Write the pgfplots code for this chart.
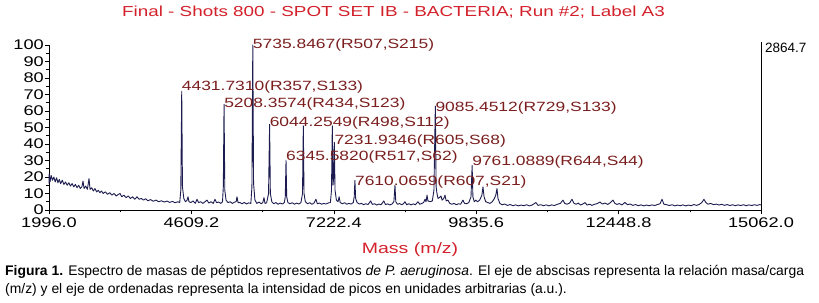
\documentclass[border=0pt]{standalone}
\usepackage{pgfplots}
\pgfplotsset{compat=1.18}
\usepackage{fontspec}
\setmainfont{Liberation Sans}
\newfontfamily\chartfont[FakeStretch=1.3]{Liberation Sans}
\newfontfamily\plainfont{Liberation Sans}
\definecolor{titlered}{HTML}{D3202A}
\definecolor{peakred}{HTML}{7A1E1E}
\definecolor{specblue}{HTML}{1C1C50}

\pgfplotstableread{
m v
1996 16
2000 22
2015 17
2035 21
2060 18
2085 20
2110 17
2135 19.5
2160 16.5
2185 18.5
2210 16
2240 18
2270 15.5
2300 17
2330 15
2360 16.5
2390 14.5
2420 16
2450 14
2480 15.5
2510 13.5
2540 15
2570 13
2600 14
2620 17.5
2640 13
2670 14.5
2700 12.5
2730 19
2750 12.5
2780 13.5
2810 11.5
2840 13
2870 11
2900 12
2930 10.5
2960 11.5
2990 10
3030 11
3070 9.5
3110 10.5
3150 9
3190 10
3230 8.5
3270 9.5
3300 10
3330 8
3370 9
3410 7.5
3450 8.5
3490 7
3530 8
3570 6.5
3611 8
3650 6.5
3690 7
3730 6
3770 6.8
3810 5.6
3860 6.3
3910 5.3
3960 6
4010 5
4060 5.6
4110 4.8
4160 5.4
4210 4.6
4260 5.2
4310 4.4
4360 5
4395 4.5
4415 12
4431.7 72
4445 14
4470 7
4500 5
4530 6
4547 8
4565 5
4600 4.5
4640 5.5
4680 4
4712 6.5
4740 4.5
4780 5
4820 4
4860 5
4895 6
4930 4.2
4970 5
5010 4
5042 6.5
5070 4.5
5110 4.8
5150 4
5180 5
5195 14
5208.4 64
5222 12
5245 6
5280 4.5
5320 5
5360 4
5400 4.8
5430 5
5446 8
5465 4.5
5500 4.5
5540 3.8
5580 4.6
5620 3.7
5660 4.3
5700 4
5720 14
5735.8 100
5750 16
5775 6
5810 4
5850 4.8
5890 3.8
5920 4.5
5941 7.5
5960 4
5990 4.3
6025 10
6044.3 52
6058 10
6085 5
6120 3.8
6160 4.5
6200 3.5
6240 4.2
6280 3.6
6315 4.5
6332 8
6345.6 30
6358 8
6380 4.5
6420 3.8
6460 4.4
6500 3.5
6540 4.2
6580 3.6
6620 4.5
6648 10
6663 51
6676 10
6700 5
6740 3.8
6780 4.4
6820 3.5
6860 4.2
6895 6.5
6920 3.8
6960 4.2
7000 3.5
7040 4
7080 3.6
7120 4.3
7160 4.5
7180 12
7195 51
7208 15
7220 20
7232 41
7245 12
7270 6
7300 5
7320 8
7340 4.5
7380 3.8
7420 4.4
7460 3.5
7500 4
7540 3.6
7580 4.5
7597 8
7610 18
7623 7
7650 4.5
7690 3.6
7730 4
7770 3.2
7810 3.8
7850 3.3
7900 5.5
7930 3.4
7970 3.8
8010 3
8050 3.6
8090 3.2
8140 5.5
8170 3.3
8210 3.7
8250 3.1
8290 3.6
8325 5
8345 15
8360 5
8390 3.5
8430 3.9
8470 3.2
8500 3.8
8529 5
8560 3.2
8600 3.8
8640 3.1
8680 3.7
8720 3.2
8767 5
8800 3.5
8840 4
8870 4.5
8896 6.5
8915 5
8933 9
8950 5.5
8990 5
9030 5.5
9060 12
9085.5 63
9100 14
9116 10
9135 7
9160 7.5
9189 8.5
9210 6
9240 7
9263 9
9285 5.5
9318 6
9350 4
9390 3.5
9430 4
9470 3.2
9510 3.8
9550 3.5
9593 6
9620 4
9660 3.8
9700 4.5
9740 8
9761 27
9775 8
9800 5
9831 6
9860 5
9900 6
9940 9
9960 14
9980 8
10010 5
10050 4.5
10088 4
10130 5
10170 7
10195 9
10217 13
10235 7
10270 4
10310 3.2
10360 3.6
10410 2.8
10460 3.3
10510 2.6
10560 3.1
10610 2.5
10660 3
10710 2.6
10760 3.2
10810 2.5
10860 3
10932 4.5
10970 2.8
11020 3.2
11070 2.6
11120 3.1
11170 2.5
11220 3.1
11270 2.7
11320 3.4
11380 4
11428 6
11460 4
11500 3.5
11550 4.2
11593 6.5
11630 4
11670 3.5
11710 4.2
11750 3
11790 3.6
11832 4.5
11870 3
11920 3.5
11960 2.8
12000 3.4
12050 3.8
12107 4.8
12150 3.6
12200 4.2
12250 3.4
12300 4.5
12345 6
12380 4
12420 3.4
12460 3.9
12510 3.1
12566 4.6
12610 3.2
12660 3.6
12710 2.8
12760 3.3
12810 2.6
12860 3.1
12910 2.5
12960 3
13010 2.6
13060 3.1
13110 2.7
13160 3.3
13210 3.8
13245 6.5
13280 3.5
13330 3.2
13380 2.7
13430 3.2
13480 2.5
13530 3
13580 2.6
13630 3.1
13680 2.5
13730 3
13780 2.6
13830 3.3
13880 2.8
13930 3.4
13975 4.5
14015 6.5
14050 4.5
14090 3.5
14140 4
14190 3.2
14240 3.6
14290 3
14340 3.5
14390 2.8
14440 3.3
14490 2.7
14540 3.2
14590 2.6
14640 3.1
14690 2.7
14740 3.2
14790 2.6
14840 3.1
14890 2.7
14940 3.2
14990 2.8
15040 3.3
15062 3
}\spectrum

\begin{document}
\begin{tikzpicture}
\path[use as bounding box] (0,0) rectangle (819bp,303bp);
\begin{axis}[
  at={(49bp,93bp)}, anchor=south west,
  scale only axis, width=712bp, height=165bp,
  xmin=1996, xmax=15062, ymin=0, ymax=100,
  axis x line*=bottom, axis y line*=left,
  axis line style={-, line width=0.8pt, black},
  clip=false,
  scaled x ticks=false, scaled y ticks=false,
  tick align=outside,
  major tick length=4bp, minor tick length=2.5bp,
  tick style={black, line width=0.6pt},
  xtick={1996,4609.2,7222.4,9835.6,12448.8,15062},
  xticklabels={1996.0,4609.2,7222.4,9835.6,12448.8,15062.0},
  minor x tick num=1,
  ytick={0,10,20,30,40,50,60,70,80,90,100},
  yticklabels={0,10,20,30,40,50,60,70,80,90,100},
  minor y tick num=1,
  tick label style={font=\chartfont\fontsize{14bp}{16bp}\selectfont, black},
  yticklabel style={inner sep=1bp},
  xticklabel style={inner sep=1bp, yshift=-3bp},
]
\addplot[specblue, line width=0.9pt, line join=round] table[x=m, y=v] {\spectrum};
\draw[black, line width=0.8pt] (rel axis cs:1,0) -- (rel axis cs:1,1.02);
\begin{scope}[every node/.style={anchor=west, inner sep=0pt, text=peakred, font=\chartfont\fontsize{13.4bp}{15bp}\selectfont}]
\node at (axis cs:4431.7,74.5) {4431.7310(R357,S133)};
\node at (axis cs:5208.4,64) {5208.3574(R434,S123)};
\node at (axis cs:5735.8,100) {5735.8467(R507,S215)};
\node at (axis cs:6044.3,53) {6044.2549(R498,S112)};
\node at (axis cs:7232,42) {7231.9346(R605,S68)};
\node at (axis cs:6345.6,32) {6345.5820(R517,S62)};
\node at (axis cs:7610,17) {7610.0659(R607,S21)};
\node at (axis cs:9085.5,62) {9085.4512(R729,S133)};
\node at (axis cs:9761,29) {9761.0889(R644,S44)};
\end{scope}
\node[anchor=west, inner sep=0pt, font=\plainfont\fontsize{13.5bp}{15bp}\selectfont] at ([xshift=4bp]rel axis cs:1,0.985) {2864.7};
\end{axis}
\node[font=\chartfont\fontsize{14.5bp}{16bp}\selectfont, text=titlered] at (393.5bp,291bp) {Final - Shots 800 - SPOT SET IB - BACTERIA; Run \#2; Label A3};
\node[font=\chartfont\fontsize{15bp}{17bp}\selectfont, text=titlered] at (410bp,53bp) {Mass (m/z)};
\node[anchor=north west, inner sep=0pt, align=left, font=\fontsize{13.9bp}{18bp}\selectfont] at (5bp,38bp) {\textbf{Figura 1.} Espectro de masas de péptidos representativos \textit{de P. aeruginosa}. El eje de abscisas representa la relación masa/carga\\(m/z) y el eje de ordenadas representa la intensidad de picos en unidades arbitrarias (a.u.).};
\end{tikzpicture}
\end{document}
